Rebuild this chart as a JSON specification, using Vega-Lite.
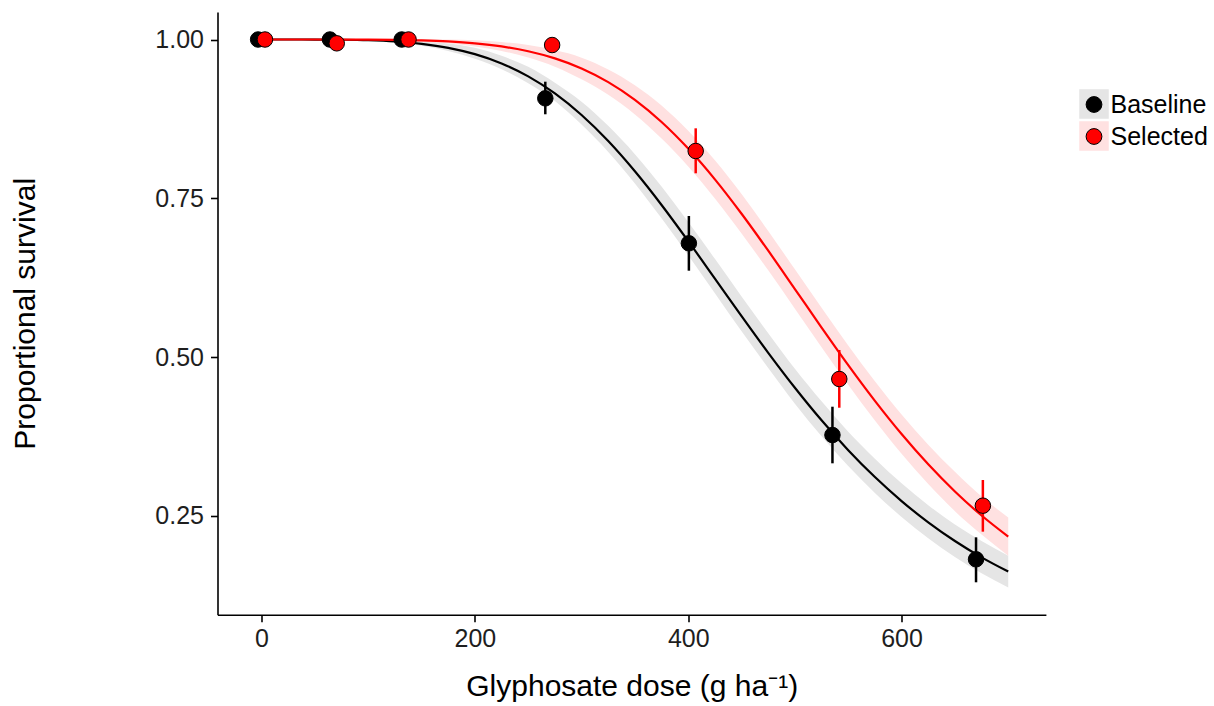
{
  "$schema": "https://vega.github.io/schema/vega-lite/v6.json",
  "autosize": "none",
  "padding": {"left": 217.5, "top": 12, "right": 168.1, "bottom": 91.3},
  "width": 828.4,
  "height": 602.7,
  "background": "white",
  "config": {
    "view": {"stroke": null},
    "font": "Liberation Sans",
    "axis": {
      "grid": false,
      "domainColor": "black",
      "domainWidth": 1.6,
      "tickColor": "black",
      "tickWidth": 1.6,
      "tickSize": 7,
      "labelFont": "Liberation Sans",
      "labelFontSize": 25,
      "labelColor": "#1e1e1e",
      "titleFont": "Liberation Sans",
      "titleFontSize": 30,
      "titleFontWeight": "normal",
      "titleColor": "black"
    }
  },
  "datasets": {
    "curve": [
      {"g": "Baseline", "d": 0, "f": 1.0, "lo": 1.0, "hi": 1.0},
      {"g": "Baseline", "d": 25, "f": 1.0, "lo": 1.0, "hi": 1.0},
      {"g": "Baseline", "d": 50, "f": 0.99994, "lo": 0.9998, "hi": 1.0001},
      {"g": "Baseline", "d": 75, "f": 0.99965, "lo": 0.9994, "hi": 1.0},
      {"g": "Baseline", "d": 100, "f": 0.9988, "lo": 0.9978, "hi": 0.9998},
      {"g": "Baseline", "d": 125, "f": 0.99688, "lo": 0.9954, "hi": 0.9989},
      {"g": "Baseline", "d": 150, "f": 0.9932, "lo": 0.9902, "hi": 0.9972},
      {"g": "Baseline", "d": 175, "f": 0.98689, "lo": 0.9819, "hi": 0.9939},
      {"g": "Baseline", "d": 200, "f": 0.97694, "lo": 0.9699, "hi": 0.9869},
      {"g": "Baseline", "d": 225, "f": 0.96231, "lo": 0.9533, "hi": 0.9743},
      {"g": "Baseline", "d": 250, "f": 0.94197, "lo": 0.931, "hi": 0.957},
      {"g": "Baseline", "d": 275, "f": 0.91508, "lo": 0.9031, "hi": 0.9321},
      {"g": "Baseline", "d": 300, "f": 0.88114, "lo": 0.8661, "hi": 0.9021},
      {"g": "Baseline", "d": 325, "f": 0.84012, "lo": 0.8231, "hi": 0.8641},
      {"g": "Baseline", "d": 350, "f": 0.79251, "lo": 0.7735, "hi": 0.8195},
      {"g": "Baseline", "d": 375, "f": 0.73953, "lo": 0.7185, "hi": 0.7685},
      {"g": "Baseline", "d": 400, "f": 0.68259, "lo": 0.6606, "hi": 0.7126},
      {"g": "Baseline", "d": 425, "f": 0.62372, "lo": 0.6007, "hi": 0.6547},
      {"g": "Baseline", "d": 450, "f": 0.56456, "lo": 0.5406, "hi": 0.5956},
      {"g": "Baseline", "d": 475, "f": 0.50679, "lo": 0.4828, "hi": 0.5378},
      {"g": "Baseline", "d": 500, "f": 0.45179, "lo": 0.4268, "hi": 0.4818},
      {"g": "Baseline", "d": 525, "f": 0.40054, "lo": 0.3755, "hi": 0.4305},
      {"g": "Baseline", "d": 550, "f": 0.35362, "lo": 0.3286, "hi": 0.3826},
      {"g": "Baseline", "d": 575, "f": 0.31123, "lo": 0.2862, "hi": 0.3402},
      {"g": "Baseline", "d": 600, "f": 0.27341, "lo": 0.2484, "hi": 0.3014},
      {"g": "Baseline", "d": 625, "f": 0.23996, "lo": 0.215, "hi": 0.267},
      {"g": "Baseline", "d": 650, "f": 0.21055, "lo": 0.1856, "hi": 0.2366},
      {"g": "Baseline", "d": 675, "f": 0.18484, "lo": 0.1598, "hi": 0.2108},
      {"g": "Baseline", "d": 700, "f": 0.16244, "lo": 0.1374, "hi": 0.1874},
      {"g": "Selected", "d": 0, "f": 1.0, "lo": 1.0, "hi": 1.0},
      {"g": "Selected", "d": 25, "f": 1.0, "lo": 1.0, "hi": 1.0},
      {"g": "Selected", "d": 50, "f": 0.99999, "lo": 0.9999, "hi": 1.0},
      {"g": "Selected", "d": 75, "f": 0.99996, "lo": 0.9999, "hi": 1.0},
      {"g": "Selected", "d": 100, "f": 0.99982, "lo": 0.9997, "hi": 1.0},
      {"g": "Selected", "d": 125, "f": 0.99945, "lo": 0.9984, "hi": 1.0004},
      {"g": "Selected", "d": 150, "f": 0.99861, "lo": 0.9966, "hi": 1.0006},
      {"g": "Selected", "d": 175, "f": 0.99695, "lo": 0.994, "hi": 1.0},
      {"g": "Selected", "d": 200, "f": 0.99399, "lo": 0.989, "hi": 0.999},
      {"g": "Selected", "d": 225, "f": 0.9891, "lo": 0.9821, "hi": 0.9961},
      {"g": "Selected", "d": 250, "f": 0.98149, "lo": 0.9715, "hi": 0.9915},
      {"g": "Selected", "d": 275, "f": 0.97025, "lo": 0.9573, "hi": 0.9833},
      {"g": "Selected", "d": 300, "f": 0.95439, "lo": 0.9374, "hi": 0.9714},
      {"g": "Selected", "d": 325, "f": 0.93294, "lo": 0.9129, "hi": 0.9529},
      {"g": "Selected", "d": 350, "f": 0.90506, "lo": 0.8821, "hi": 0.9281},
      {"g": "Selected", "d": 375, "f": 0.87024, "lo": 0.8442, "hi": 0.8962},
      {"g": "Selected", "d": 400, "f": 0.82829, "lo": 0.8003, "hi": 0.8563},
      {"g": "Selected", "d": 425, "f": 0.77985, "lo": 0.7499, "hi": 0.8099},
      {"g": "Selected", "d": 450, "f": 0.72569, "lo": 0.6947, "hi": 0.7567},
      {"g": "Selected", "d": 475, "f": 0.66756, "lo": 0.6366, "hi": 0.6986},
      {"g": "Selected", "d": 500, "f": 0.60722, "lo": 0.5762, "hi": 0.6382},
      {"g": "Selected", "d": 525, "f": 0.5466, "lo": 0.5156, "hi": 0.5776},
      {"g": "Selected", "d": 550, "f": 0.48742, "lo": 0.4564, "hi": 0.5184},
      {"g": "Selected", "d": 575, "f": 0.43118, "lo": 0.4002, "hi": 0.4622},
      {"g": "Selected", "d": 600, "f": 0.37892, "lo": 0.3479, "hi": 0.4099},
      {"g": "Selected", "d": 625, "f": 0.33129, "lo": 0.3003, "hi": 0.3623},
      {"g": "Selected", "d": 650, "f": 0.28856, "lo": 0.2576, "hi": 0.3196},
      {"g": "Selected", "d": 675, "f": 0.25072, "lo": 0.2207, "hi": 0.2807},
      {"g": "Selected", "d": 700, "f": 0.2175, "lo": 0.1875, "hi": 0.2475}
    ],
    "obs": [
      {"g": "Baseline", "d": -3.2, "s": 1.0},
      {"g": "Baseline", "d": 64.1, "s": 1.0},
      {"g": "Baseline", "d": 131.4, "s": 1.0},
      {"g": "Baseline", "d": 266.0, "s": 0.9074, "lo": 0.8823, "hi": 0.9336},
      {"g": "Baseline", "d": 400.6, "s": 0.6792, "lo": 0.6361, "hi": 0.7222},
      {"g": "Baseline", "d": 535.2, "s": 0.3774, "lo": 0.3329, "hi": 0.422},
      {"g": "Baseline", "d": 669.8, "s": 0.1818, "lo": 0.1456, "hi": 0.2164},
      {"g": "Selected", "d": 3.2, "s": 1.0},
      {"g": "Selected", "d": 70.5, "s": 0.994},
      {"g": "Selected", "d": 137.8, "s": 1.0},
      {"g": "Selected", "d": 272.4, "s": 0.9913},
      {"g": "Selected", "d": 407.0, "s": 0.8245, "lo": 0.7894, "hi": 0.8602},
      {"g": "Selected", "d": 541.6, "s": 0.4656, "lo": 0.4204, "hi": 0.5113},
      {"g": "Selected", "d": 676.2, "s": 0.2662, "lo": 0.2253, "hi": 0.3066}
    ]
  },
  "layer": [
    {
      "data": {"name": "curve"},
      "mark": {"type": "area", "opacity": 1, "interpolate": "monotone"},
      "encoding": {
        "x": {"field": "d", "type": "quantitative", "scale": {"domain": [-41.3, 735.3], "nice": false, "zero": false},
          "axis": {"values": [0, 200, 400, 600], "title": "Glyphosate dose (g ha⁻¹)", "labelPadding": 5, "titlePadding": 20}},
        "y": {"field": "lo", "type": "quantitative", "scale": {"domain": [0.0946, 1.0433], "nice": false, "zero": false},
          "axis": {"values": [0.25, 0.5, 0.75, 1.0], "format": ".2f", "title": "Proportional survival", "labelPadding": 7, "titlePadding": 114}},
        "y2": {"field": "hi"},
        "color": {"field": "g", "type": "nominal",
          "scale": {"domain": ["Baseline", "Selected"], "range": ["#e5e5e5", "#ffe1e1"]},
          "legend": {"orient": "none", "legendX": 861.5, "legendY": 77, "title": null, "padding": 0,
            "symbolType": "square", "symbolSize": 870, "symbolStrokeWidth": 0, "symbolOpacity": 1,
            "labelFontSize": 25, "labelExpr": "''", "rowPadding": 2, "labelOffset": 0}}
      }
    },
    {
      "data": {"name": "curve"},
      "mark": {"type": "line", "strokeWidth": 2.2, "interpolate": "monotone"},
      "encoding": {
        "x": {"field": "d", "type": "quantitative"},
        "y": {"field": "f", "type": "quantitative"},
        "stroke": {"field": "g", "type": "nominal",
          "scale": {"range": ["#000000", "#ff0000"]}, "legend": null}
      }
    },
    {
      "data": {"name": "obs"},
      "transform": [{"filter": {"field": "lo", "valid": true}}],
      "mark": {"type": "rule", "strokeWidth": 2.5},
      "encoding": {
        "x": {"field": "d", "type": "quantitative"},
        "y": {"field": "lo", "type": "quantitative"},
        "y2": {"field": "hi"},
        "stroke": {"field": "g", "type": "nominal", "legend": null}
      }
    },
    {
      "data": {"name": "obs"},
      "mark": {"type": "point", "shape": "circle", "filled": true, "opacity": 1, "size": 240, "stroke": "black", "strokeWidth": 1, "strokeOpacity": 1},
      "encoding": {
        "x": {"field": "d", "type": "quantitative"},
        "y": {"field": "s", "type": "quantitative"},
        "fill": {"field": "g", "type": "nominal",
          "scale": {"range": ["#000000", "#ff0000"]},
          "legend": {"orient": "none", "legendX": 864, "legendY": 80, "title": null, "padding": 0,
            "symbolType": "circle", "symbolSize": 250, "symbolStrokeColor": "black", "symbolStrokeWidth": 1, "symbolOpacity": 1,
            "labelFontSize": 25, "labelColor": "black", "labelOffset": 4, "rowPadding": 6}}
      }
    }
  ]
}
